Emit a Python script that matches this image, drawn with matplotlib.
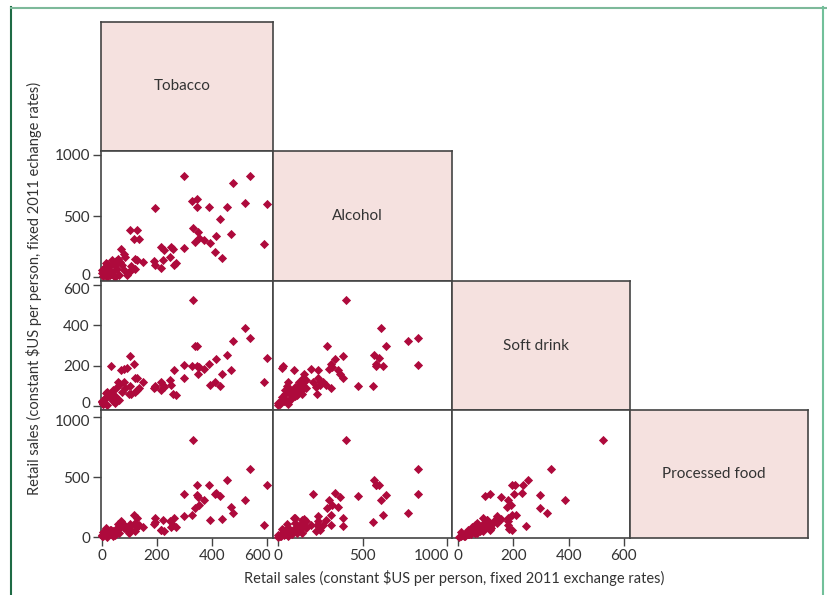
import matplotlib
matplotlib.use("Agg")
import matplotlib.pyplot as plt
import matplotlib.transforms as mtransforms
from matplotlib.lines import Line2D

plt.rcParams['font.family'] = ['Lato', 'DejaVu Sans']

# Розпродаж на душу населення по країнах (тютюн, алкоголь, напої, оброблена їжа)
tobacco = [297, 300, 327, 331, 337, 345, 345, 351, 352, 372, 389, 394, 412, 416,
           428, 437, 455, 470, 477, 522, 540, 589, 602,
           102, 105, 116, 119, 122, 126, 129, 136, 151, 188, 194, 195, 215, 216,
           223, 225, 249, 250, 258, 262, 270,
           69, 82, 85, 93, 35, 36, 66, 48, 12, 0, 24, 54, 73, 6, 30, 48, 61, 18,
           0, 42, 79, 97, 103, 20, 10, 50, 28, 60, 5, 40, 15]
alcohol = [237, 830, 622, 405, 291, 640, 577, 366, 320, 303, 577, 283, 206, 337,
           474, 154, 570, 357, 770, 610, 830, 269, 600,
           385, 89, 311, 66, 149, 385, 140, 311, 123, 137, 100, 565, 251, 72,
           143, 223, 166, 246, 232, 97, 115,
           235, 194, 166, 23, 30, 143, 128, 100, 85, 56, 70, 70, 100, 14, 23, 0, 23, 0,
           35, 42, 56, 42, 51, 110, 40, 130, 95, 150, 60, 15, 120]
soft_drink = [139, 203, 196, 525, 296, 296, 196, 157, 192, 182, 206, 105, 116, 233,
              98, 156, 253, 177, 322, 387, 337, 119, 236,
              246, 60, 208, 66, 139, 140, 80, 90, 116, 90, 91, 100, 116, 78,
              103, 91, 129, 103, 60, 179, 52,
              179, 182, 90, 186, 196, 60, 110, 50, 40, 20, 60, 35, 70, 10, 45, 15, 30, 5,
              25, 80, 120, 60, 100, 70, 35, 90, 55, 120, 10, 25, 65]
processed_food = [175, 363, 183, 815, 247, 355, 436, 334, 272, 308, 436, 147, 363, 370,
                  345, 155, 478, 255, 203, 313, 570, 100, 436,
                  92, 60, 188, 50, 120, 161, 90, 100, 89, 108, 161, 125, 64, 64,
                  142, 56, 133, 86, 100, 161, 89,
                  139, 100, 80, 70, 60, 40, 90, 50, 30, 15, 45, 60, 120, 10, 25, 20, 35, 5,
                  20, 55, 75, 40, 110, 35, 25, 70, 65, 110, 45, 10, 80]

names = ['Tobacco', 'Alcohol', 'Soft drink', 'Processed food']
series = [tobacco, alcohol, soft_drink, processed_food]
limits = [(-3, 622), (-30, 1030), (-22, 622), (-5, 1062)]
ticks = [[0, 200, 400, 600], [0, 500, 1000], [0, 200, 400, 600], [0, 500, 1000]]

W, H = 827, 595
fig = plt.figure(figsize=(W / 100, H / 100), dpi=100)

col_edges = [101, 273, 452, 630, 808]
row_edges = [22, 151, 281, 410, 538]

red = '#AE0A3C'
edge = '#444444'
pink = '#F5E1DF'
txt = '#333333'


def nudge(label, dx, dy):
    label.set_transform(label.get_transform() + mtransforms.ScaledTranslation(
        dx / 100, dy / 100, fig.dpi_scale_trans))


for i in range(4):
    for j in range(i + 1):
        x0, x1 = col_edges[j], col_edges[j + 1]
        y0, y1 = row_edges[i], row_edges[i + 1]
        ax = fig.add_axes([x0 / W, 1 - y1 / H, (x1 - x0) / W, (y1 - y0) / H])
        for sp in ax.spines.values():
            sp.set_color(edge)
            sp.set_linewidth(1.2)
        ax.tick_params(length=6, width=1, color=edge, labelsize=11,
                       labelcolor=txt, pad=2)
        ax.set_xlim(limits[j])
        if i == j:
            ax.set_facecolor(pink)
            ax.text(0.47, 0.5, names[i], transform=ax.transAxes, ha='center',
                    va='center', fontsize=11, color=txt)
        else:
            ax.set_ylim(limits[i])
            ax.scatter(series[j], series[i], marker='D', s=22, color=red,
                       linewidths=0, zorder=3, clip_on=False)
        if j == 0 and i > 0:
            ax.set_yticks(ticks[i])
            ylabs = ax.get_yticklabels()
            if i < 3:
                nudge(ylabs[0], 0, 3)
            if i > 1:
                nudge(ylabs[-1], 0, -3)
        else:
            ax.set_yticks([])
        if i == 3 and j < 3:
            ax.set_xticks(ticks[j])
            if j < 2:
                nudge(ax.get_xticklabels()[-1], -10 if j == 0 else -15, 0)
        else:
            ax.set_xticks([])

fig.text(454 / W, 1 - 578 / H, 'Retail sales (constant $US per person, fixed 2011 exchange rates)',
         ha='center', va='center', fontsize=10.5, color=txt)
fig.text(34 / W, 1 - 288 / H, 'Retail sales (constant $US per person, fixed 2011 echange rates)',
         ha='center', va='center', rotation=90, fontsize=10.5, color=txt)

# рамка сторінки
fig.add_artist(Line2D([11 / W, 11 / W], [0, 1 - 7 / H], color='#1E6B45', lw=1.5))
fig.add_artist(Line2D([11 / W, 1], [1 - 7.5 / H, 1 - 7.5 / H], color='#7DB99A', lw=1.5))
fig.add_artist(Line2D([823 / W, 823 / W], [0, 1 - 7 / H], color='#72C09A', lw=1.5))

fig.savefig('out.png', dpi=100)
